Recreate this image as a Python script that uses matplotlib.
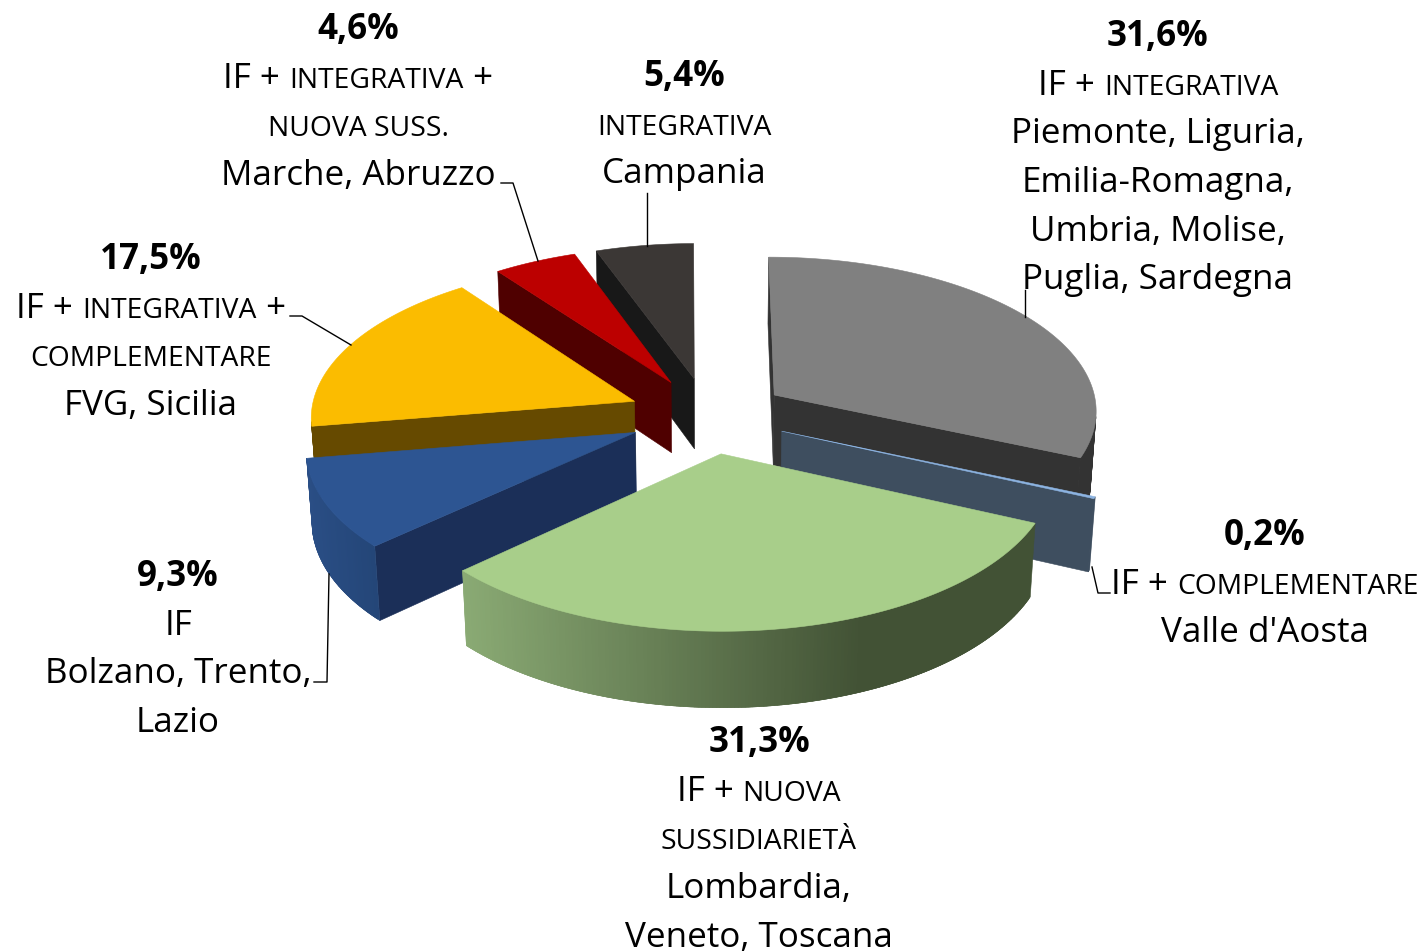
import numpy as np
import matplotlib
matplotlib.use('Agg')
import matplotlib.pyplot as plt
from matplotlib.colors import LinearSegmentedColormap
from matplotlib.patches import Polygon

# dati (percentuali, in senso orario dalle ore 12)
valori = [31.6, 0.2, 31.3, 9.3, 17.5, 4.6, 5.4]
tipologie = [
    [('IF + ', 'n'), ('INTEGRATIVA', 's')],
    [('IF + ', 'n'), ('COMPLEMENTARE', 's')],
    [('IF + ', 'n'), ('NUOVA', 's')],
    [('IF', 'n')],
    [('IF + ', 'n'), ('INTEGRATIVA', 's'), (' +', 'n')],
    [('IF + ', 'n'), ('INTEGRATIVA', 's'), (' +', 'n')],
    [('INTEGRATIVA', 's')],
]
tipologie2 = [None, None, [('SUSSIDIARIETÀ', 's')], None,
              [('COMPLEMENTARE', 's')], [('NUOVA SUSS.', 's')], None]
regioni = [
    ['Piemonte, Liguria,', 'Emilia-Romagna,', 'Umbria, Molise,', 'Puglia, Sardegna'],
    ["Valle d'Aosta"],
    ['Lombardia,', 'Veneto, Toscana'],
    ['Bolzano, Trento,', 'Lazio'],
    ['FVG, Sicilia'],
    ['Marche, Abruzzo'],
    ['Campania'],
]

# stile delle fette: piano, lato, bordo esterno (sfumatura da destra a sinistra)
col_top = ['#808080', '#8DB4E2', '#A8CE8A', '#2D5592', '#FBBC00', '#BC0000', '#3B3735']
col_cut = ['#333333', '#3E4E5F', '#425235', '#1B2F58', '#664A00', '#4F0000', '#181818']
col_rim = [['#333333', '#333333'], ['#3E4E5F', '#3E4E5F'],
           [(0, '#425235'), (0.3, '#425235'), (1, '#8AAA74')], ['#244678', '#2A4E85'],
           ['#664A00', '#664A00'], ['#4F0000', '#4F0000'], ['#181818', '#181818']]
# ordine di disegno, dal fondo verso l'osservatore
ordine = [0, 6, 5, 4, 3, 1, 2]

# geometria della torta
cx, cy = 708, 416.5
R = 324
expl = 80
prosp = 0.00028
prosp_z = 0.0002
k = 0.475
h = 72

# posizione etichette: x centro, baseline prime righe
lab_x = [1158, 1265, 759, 178, 151, 358, 684]
lab_y = [46, 545, 752, 586, 269, 39, 86]
passo = 48.7

leader = [
    [(1025, 291), (1025, 318)],
    [(1092, 568), (1098, 594), (1110, 594)],
    [],
    [(329, 575), (327, 683), (314, 683)],
    [(290, 317), (302, 317), (351, 346)],
    [(501, 184), (513, 184), (538, 262)],
    [(647, 194), (647, 247)],
]


def proietta(ang, rad, mid, z=0.0):
    X = rad * np.sin(ang) + expl * np.sin(mid)
    Y = -rad * np.cos(ang) - expl * np.cos(mid)
    s = 1 / (1 - prosp * Y + prosp_z * z)
    return cx + X * s, cy + (Y * k + z) * s


def area(pts):
    p = np.array(pts)
    return 0.5 * np.sum(p[:, 0] * np.roll(p[:, 1], -1) - np.roll(p[:, 0], -1) * p[:, 1])


def faccia(ax, pts, col, z):
    ax.add_patch(Polygon(pts, closed=True, fc=col, ec=col, lw=0.4, zorder=z))


fig = plt.figure(figsize=(14.21, 9.53), dpi=100)
ax = fig.add_axes([0, 0, 1, 1])
ax.set_xlim(0, 1421)
ax.set_ylim(953, 0)
ax.axis('off')

fine = np.cumsum(valori) / 100 * 2 * np.pi
inizio = fine - np.array(valori) / 100 * 2 * np.pi

z = 1
for i in ordine:
    a0, a1 = inizio[i], fine[i]
    mid = (a0 + a1) / 2
    n = max(int((a1 - a0) / 0.01), 3)
    angoli = np.linspace(a0, a1, n)
    cmap = LinearSegmentedColormap.from_list('rim', col_rim[i])

    top = [proietta(a, R, mid) for a in angoli]
    bot = [proietta(a, R, mid, h) for a in angoli]
    apice = proietta(0, 0, mid)
    apice_b = proietta(0, 0, mid, h)

    # facce di taglio: solo quelle rivolte verso chi guarda
    q0 = [apice, top[0], bot[0], apice_b]
    q1 = [top[-1], apice, apice_b, bot[-1]]
    if area(q0) < 0:
        faccia(ax, q0, col_cut[i], z)
    if area(q1) < 0:
        faccia(ax, q1, col_cut[i], z)

    # bordo esterno a strisce sovrapposte, per la sfumatura
    xs_rim = [p[0] for p in top]
    xmin, xmax = min(xs_rim), max(xs_rim)
    for j in range(n - 1):
        j2 = min(j + 2, n - 1)
        q = [top[j], top[j2], bot[j2], bot[j]]
        if area([top[j], top[j + 1], bot[j + 1], bot[j]]) < 0:
            t = (xmax - top[j][0]) / (xmax - xmin)
            faccia(ax, q, cmap(t), z)
    z += 1
    faccia(ax, [apice] + top, col_top[i], z)
    z += 1

# testo normale, maiuscoletto, percentuale
font = 'Open Sans'
stili = {'n': dict(fontsize=25.2), 's': dict(fontsize=20.3),
         'b': dict(fontsize=25.2, fontweight='bold')}
rend = fig.canvas.get_renderer()


def riga(x, y, pezzi):
    testi = []
    for t, st in pezzi:
        testi.append((ax.text(0, y, t, family=font, color='black', va='baseline',
                              ha='left', zorder=50, **stili[st]), t))
    # larghezze misurate, con gli spazi iniziali/finali compresi
    larg = []
    for tx, t in testi:
        tw, _, _ = rend.get_text_width_height_descent(t, tx.get_fontproperties(), False)
        larg.append(tw)
    xc = x - sum(larg) / 2
    for (tx, t), w in zip(testi, larg):
        tx.set_x(xc)
        xc += w


for i in range(len(valori)):
    y = lab_y[i]
    perc = f'{valori[i]:.1f}%'.replace('.', ',')
    riga(lab_x[i], y, [(perc, 'b')])
    y += passo
    riga(lab_x[i], y, tipologie[i])
    if tipologie2[i]:
        y += passo
        riga(lab_x[i], y, tipologie2[i])
    for r in regioni[i]:
        y += passo
        riga(lab_x[i], y, [(r, 'n')])
    if leader[i]:
        xs, ys = zip(*leader[i])
        ax.plot(xs, ys, color='black', lw=1.0, zorder=40)

fig.savefig('out.png', dpi=100, facecolor='white')
